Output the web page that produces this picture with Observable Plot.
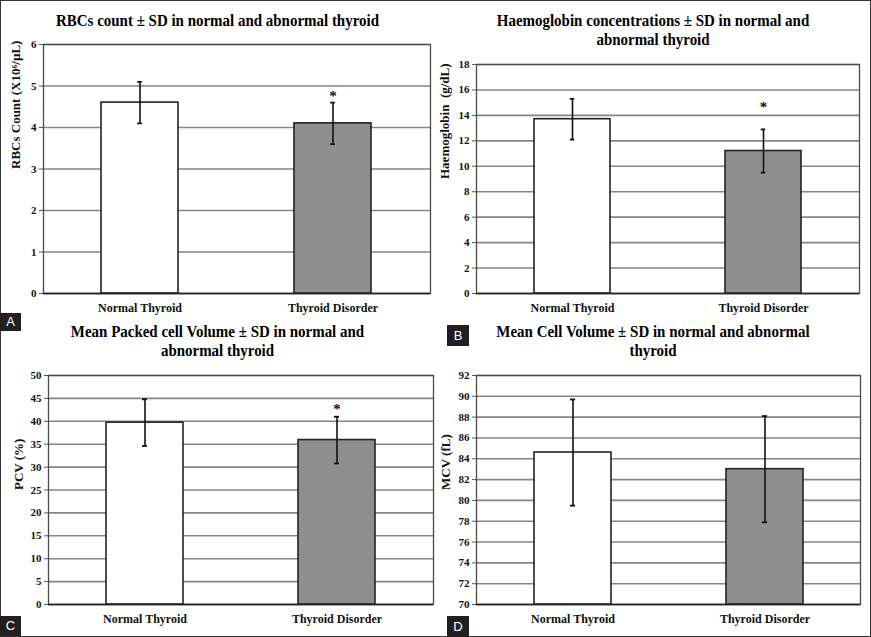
<!DOCTYPE html>
<html>
<head>
<meta charset="utf-8">
<script src="https://cdn.jsdelivr.net/npm/d3@7"></script>
<script src="https://cdn.jsdelivr.net/npm/@observablehq/plot@0.6"></script>
<style>
  html, body { margin: 0; padding: 0; background: #fff; }
  #root { position: relative; width: 871px; height: 637px; overflow: hidden; background: #fff; }
  #border { position: absolute; left: 0; top: 0; width: 871px; height: 637px; box-sizing: border-box; border: 1px solid #333; pointer-events: none; z-index: 5; }
  .panel { position: absolute; }
  .panel svg { position: absolute; left: 0; top: 0; }
  .title { position: absolute; left: 0; width: 100%; text-align: center; font-family: "Liberation Serif", "Times New Roman", serif; font-weight: bold; font-size: 17px; line-height: 19px; color: #000; transform: scaleX(0.88); transform-origin: center; z-index: 2; }
  .tag { position: absolute; background: #231f20; color: #fff; font-family: "Liberation Sans", Arial, sans-serif; font-size: 13px; text-align: center; z-index: 6; }
</style>
</head>
<body>
<div id="root"><div id="border"></div></div>
<script>
const groups = ["Normal Thyroid", "Thyroid Disorder"];

const rbcMean = [4.6, 4.1];
const rbcSD = [0.5, 0.5];
const rbcSig = [null, 4.82];
const rbcTicks = [0, 1, 2, 3, 4, 5, 6];

const hbMean = [13.7, 11.2];
const hbSD = [1.6, 1.7];
const hbSig = [null, 14.86];
const hbTicks = [0, 2, 4, 6, 8, 10, 12, 14, 16, 18];

const pcvMean = [39.7, 35.9];
const pcvSD = [5.1, 5.1];
const pcvSig = [null, 43.2];
const pcvTicks = [0, 5, 10, 15, 20, 25, 30, 35, 40, 45, 50];

const mcvMean = [84.6, 83.0];
const mcvSD = [5.1, 5.1];
const mcvSig = [null, null];
const mcvTicks = [70, 72, 74, 76, 78, 80, 82, 84, 86, 88, 90, 92];

const titles = [
  ["RBCs count ± SD in normal and abnormal thyroid"],
  ["Haemoglobin concentrations ± SD in normal and", "abnormal thyroid"],
  ["Mean Packed cell Volume ± SD in normal and", "abnormal thyroid"],
  ["Mean Cell Volume ± SD in normal and abnormal", "thyroid"]
];
const yLabels = ["RBCs Count (X10⁶/µL)", "Haemoglobin  (g/dL)", "PCV (%)", "MCV (fL)"];
const tags = ["A", "B", "C", "D"];

const root = document.getElementById("root");

function panel(cfg) {
  const {left, top, w, h, ml, mr, mt, mb, ticks, means, sds, sig, title, titleTop, ylabel, ylabelX} = cfg;
  const base = ticks[0];
  const data = groups.map((g, i) => ({group: g, mean: means[i], sd: sds[i], sig: sig[i], base}));
  const plotW = w - ml - mr;
  const bw = plotW * 0.2;
  const capInset = (bw - 5) / 2;
  const div = document.createElement("div");
  div.className = "panel";
  div.style.left = left + "px";
  div.style.top = top + "px";
  div.style.width = w + "px";
  div.style.height = h + "px";

  const chart = Plot.plot({
    width: w,
    height: h,
    marginLeft: ml,
    marginRight: mr,
    marginTop: mt,
    marginBottom: mb,
    style: {fontFamily: "'Liberation Serif', 'Times New Roman', serif", fontWeight: "bold", fontSize: "11px", background: "transparent", color: "#111"},
    x: {domain: groups, paddingInner: 0.6, paddingOuter: 0.3, axis: null},
    y: {domain: [ticks[0], ticks[ticks.length - 1]], axis: null},
    color: {domain: groups, range: ["#ffffff", "#8f8f8f"]},
    marks: [
      Plot.gridY(ticks, {stroke: "#858585", strokeOpacity: 1, strokeWidth: 1.6}),
      Plot.frame({stroke: "#4a4a4a", strokeWidth: 1.3}),
      Plot.barY(data, {x: "group", y1: "base", y2: "mean", fill: "group", stroke: "#222", strokeWidth: 1.6}),
      Plot.ruleX(data, {x: "group", y1: d => d.mean - d.sd, y2: d => d.mean + d.sd, stroke: "#111", strokeWidth: 1.6}),
      Plot.tickY(data, {x: "group", y: d => d.mean - d.sd, stroke: "#111", strokeWidth: 1.8, insetLeft: capInset, insetRight: capInset}),
      Plot.tickY(data, {x: "group", y: d => d.mean + d.sd, stroke: "#111", strokeWidth: 1.8, insetLeft: capInset, insetRight: capInset}),
      Plot.text(data.filter(d => d.sig != null), {x: "group", y: "sig", text: () => "*", fontSize: 15, fill: "#111", dy: 3}),
      Plot.ruleY([base], {stroke: "#222", strokeWidth: 1.5}),
      Plot.axisY(ticks, {tickSize: 4, tickPadding: 3, label: null, fontSize: 11, stroke: "#555"}),
      Plot.axisX({tickSize: 0, tickPadding: 10, label: null, fontSize: 12}),
      Plot.text([ylabel], {frameAnchor: "left", rotate: -90, dx: -(ml - ylabelX), fontSize: 13, fill: "#111"})
    ]
  });
  div.appendChild(chart);

  const t = document.createElement("div");
  t.className = "title";
  t.style.top = titleTop + "px";
  title.forEach((line, i) => {
    if (i) t.appendChild(document.createElement("br"));
    t.appendChild(document.createTextNode(line));
  });
  div.appendChild(t);
  root.appendChild(div);
}

panel({left: 0, top: 0, w: 435, h: 318, ml: 43, mr: 5, mt: 44, mb: 25, ticks: rbcTicks, means: rbcMean, sds: rbcSD, sig: rbcSig, title: titles[0], titleTop: 11, ylabel: yLabels[0], ylabelX: 15});
panel({left: 435, top: 0, w: 436, h: 318, ml: 41, mr: 12, mt: 64, mb: 25, ticks: hbTicks, means: hbMean, sds: hbSD, sig: hbSig, title: titles[1], titleTop: 11, ylabel: yLabels[1], ylabelX: 9});
panel({left: 0, top: 318, w: 435, h: 319, ml: 48, mr: 2, mt: 57, mb: 33, ticks: pcvTicks, means: pcvMean, sds: pcvSD, sig: pcvSig, title: titles[2], titleTop: 4, ylabel: yLabels[2], ylabelX: 18});
panel({left: 435, top: 318, w: 436, h: 319, ml: 41, mr: 11, mt: 57, mb: 33, ticks: mcvTicks, means: mcvMean, sds: mcvSD, sig: mcvSig, title: titles[3], titleTop: 4, ylabel: yLabels[3], ylabelX: 10});

const tagPos = [[0, 313, 21, 18], [447, 325, 22, 21], [0, 616, 21, 20], [447, 616, 22, 21]];
tags.forEach((s, i) => {
  const [x, y, w, h] = tagPos[i];
  const d = document.createElement("div");
  d.className = "tag";
  d.style.left = x + "px"; d.style.top = y + "px";
  d.style.width = w + "px"; d.style.height = h + "px";
  d.style.lineHeight = h + "px";
  d.textContent = s;
  root.appendChild(d);
});
</script>
</body>
</html>
